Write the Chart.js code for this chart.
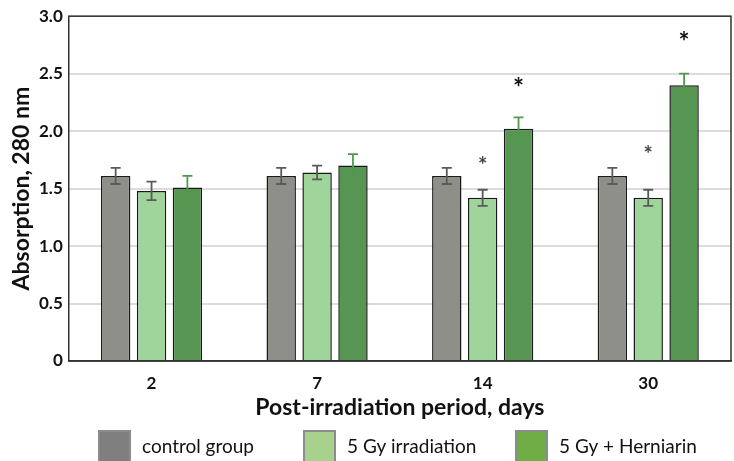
<!DOCTYPE html>
<html>
<head>
<meta charset="utf-8">
<script src="https://cdn.jsdelivr.net/npm/chart.js@4/dist/chart.umd.min.js"></script>
<style>
  body { margin: 0; background: #fff; }
</style>
</head>
<body>
<canvas id="absChart" width="734" height="461"></canvas>
<script>
// Chart data
const days = ["2", "7", "14", "30"];
const controlVals = [1.61, 1.61, 1.61, 1.61];
const controlErr = [0.07, 0.07, 0.07, 0.07];
const irradVals = [1.48, 1.64, 1.42, 1.42];
const irradErr = [0.08, 0.06, 0.07, 0.07];
const hernVals = [1.51, 1.70, 2.02, 2.40];
const hernErr = [0.10, 0.10, 0.10, 0.10];
// significance marks (value where the asterisk sits)
const irradStars = [null, null, 1.74, 1.84];
const hernStars = [null, null, 2.41, 2.81];
const yTicks = [0, 0.5, 1.0, 1.5, 2.0, 2.5, 3.0];

const FONT = "Lato, 'Open Sans', sans-serif";

const errors = [controlErr, irradErr, hernErr];
const errColors = ["#5a5a5a", "#5a5a5a", "#4f9a4c"];
const stars = [null, irradStars, hernStars];
const legendColors = ["#7f7f7f", "#a9d18e", "#70ad47"];
const legendBoxX = [98, 303, 515];

// error bars, asterisks, frame and legend
const extrasPlugin = {
  id: "extras",
  afterDatasetsDraw(chart) {
    const ctx = chart.ctx;
    const y = chart.scales.y;
    chart.data.datasets.forEach((ds, di) => {
      const meta = chart.getDatasetMeta(di);
      meta.data.forEach((bar, i) => {
        const v = ds.data[i];
        const e = errors[di][i];
        const top = y.getPixelForValue(v + e);
        const bot = y.getPixelForValue(v - e);
        ctx.save();
        ctx.strokeStyle = errColors[di];
        ctx.lineWidth = 1.8;
        ctx.beginPath();
        ctx.moveTo(bar.x, top);
        ctx.lineTo(bar.x, bot);
        ctx.moveTo(bar.x - 5, top);
        ctx.lineTo(bar.x + 5, top);
        ctx.moveTo(bar.x - 5, bot);
        ctx.lineTo(bar.x + 5, bot);
        ctx.stroke();
        ctx.restore();

        if (stars[di] && stars[di][i] != null) {
          ctx.save();
          ctx.fillStyle = di === 2 ? "#111" : "#444";
          ctx.font = "bold " + (di === 2 ? 26 : 22) + "px " + FONT;
          ctx.textAlign = "center";
          ctx.textBaseline = "middle";
          ctx.fillText("*", bar.x, y.getPixelForValue(stars[di][i]) + 5);
          ctx.restore();
        }
      });
    });
  },
  afterDraw(chart) {
    const a = chart.chartArea;
    const ctx = chart.ctx;
    ctx.save();
    ctx.strokeStyle = "#333";
    ctx.lineWidth = 1.5;
    ctx.strokeRect(a.left, a.top, a.right - a.left, a.bottom - a.top);

    // legend row along the bottom
    ctx.font = "19px " + FONT;
    ctx.textBaseline = "middle";
    const boxTop = 430;
    chart.data.datasets.forEach((ds, i) => {
      const x = legendBoxX[i];
      ctx.fillStyle = legendColors[i];
      ctx.fillRect(x, boxTop, 33, 32);
      ctx.strokeStyle = "#8c8c8c";
      ctx.lineWidth = 2;
      ctx.strokeRect(x + 1, boxTop + 1, 31, 31);
      ctx.fillStyle = "#111";
      ctx.fillText(ds.label, x + 44, boxTop + 17);
    });
    ctx.restore();
  },
};

new Chart(document.getElementById("absChart"), {
  type: "bar",
  data: {
    labels: days,
    datasets: [
      { label: "control group", data: controlVals, backgroundColor: "#8f8f8a" },
      { label: "5 Gy irradiation", data: irradVals, backgroundColor: "#9fd49a" },
      { label: "5 Gy + Herniarin", data: hernVals, backgroundColor: "#569552" },
    ],
  },
  options: {
    responsive: false,
    animation: false,
    layout: { padding: { top: -8, right: 3, left: 10, bottom: 40 } },
    datasets: {
      bar: {
        borderColor: "#1a1a1a",
        borderWidth: 1.5,
        categoryPercentage: 0.65,
        barPercentage: 0.82,
      },
    },
    scales: {
      x: {
        grid: { display: false, drawTicks: false },
        border: { color: "#333", width: 1.5 },
        ticks: { color: "#111", font: { family: FONT, size: 17, weight: "bold" }, padding: 12 },
        title: {
          display: true,
          text: "Post-irradiation period, days",
          color: "#111",
          font: { family: FONT, size: 23, weight: "bold" },
          padding: { top: -12, bottom: 0 },
        },
      },
      y: {
        min: 0,
        max: 3,
        afterBuildTicks(scale) {
          scale.ticks = yTicks.map((v) => ({ value: v }));
        },
        ticks: {
          color: "#111",
          font: { family: FONT, size: 17, weight: "bold" },
          padding: 6,
          callback: (v) => (v === 0 ? "0" : v.toFixed(1)),
        },
        grid: { color: "#dcdcdc", lineWidth: 2, drawTicks: false },
        border: { display: false },
        title: {
          display: true,
          text: "Absorption, 280 nm",
          color: "#111",
          font: { family: FONT, size: 23, weight: "bold", lineHeight: 1 },
          padding: { top: 0, bottom: 0 },
        },
      },
    },
    plugins: {
      legend: { display: false },
      tooltip: { enabled: false },
    },
  },
  plugins: [extrasPlugin],
});
</script>
</body>
</html>
